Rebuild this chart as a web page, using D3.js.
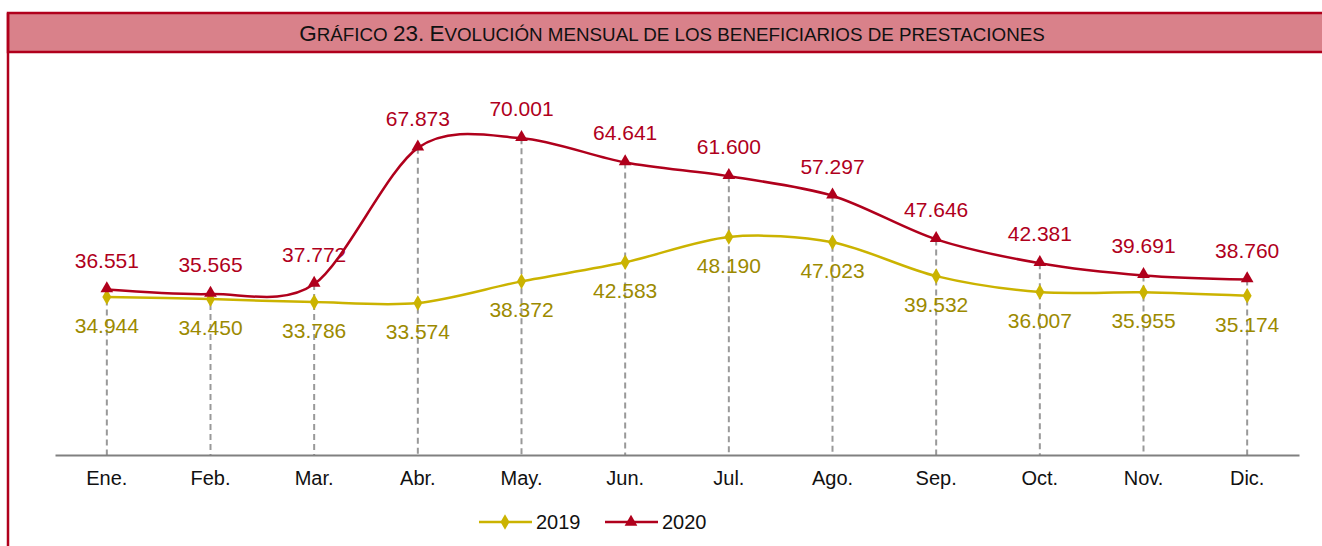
<!DOCTYPE html>
<html>
<head>
<meta charset="utf-8">
<script src="https://cdn.jsdelivr.net/npm/d3@7"></script>
<style>
  body { margin: 0; background: #fff; }
  svg { display: block; font-family: "Liberation Sans", Arial, sans-serif; }
</style>
</head>
<body>
<div id="chartDiv"></div>
<script>
// Data
var months = ["Ene.", "Feb.", "Mar.", "Abr.", "May.", "Jun.", "Jul.", "Ago.", "Sep.", "Oct.", "Nov.", "Dic."];
var values2019 = [34944, 34450, 33786, 33574, 38372, 42583, 48190, 47023, 39532, 36007, 35955, 35174];
var values2020 = [36551, 35565, 37772, 67873, 70001, 64641, 61600, 57297, 47646, 42381, 39691, 38760];
var seriesNames = ["2019", "2020"];
var title = "Gráfico 23. Evolución mensual de los beneficiarios de prestaciones";

var svgWidth = 1322;
var svgHeight = 546;

var red = "#b0001c";
var gold = "#cbb300";
var goldText = "#9c8a00";

var svg = d3.select('#chartDiv')
            .append('svg')
            .attr('width', svgWidth)
            .attr('height', svgHeight);

// Title band and frame
svg.append('rect')
   .attr('x', 8).attr('y', 13)
   .attr('width', svgWidth + 10).attr('height', 39)
   .attr('fill', '#d9818a')
   .attr('stroke', red).attr('stroke-width', 2.5);
svg.append('line')
   .attr('x1', 8).attr('x2', 8).attr('y1', 13).attr('y2', svgHeight)
   .attr('stroke', red).attr('stroke-width', 2.5);

// Title in small caps: capitals bigger, the rest as smaller capitals
var titleText = svg.append('text')
   .attr('x', 672).attr('y', 41)
   .attr('text-anchor', 'middle')
   .attr('fill', '#111');
title.split('').forEach(function(ch) {
    var isUpper = ch !== ch.toLowerCase() || /[0-9.]/.test(ch);
    titleText.append('tspan')
       .style('font-size', isUpper ? '22.5px' : '18.8px')
       .text(ch.toUpperCase());
});

// Scales
var x = d3.scaleBand()
          .domain(months)
          .range([55, 1299]);
var y = d3.scaleLinear()
          .domain([0, 80000])
          .range([455, 93]);

function cx(d, i) { return x(months[i]) + x.bandwidth() / 2; }

// Drop lines
svg.selectAll('.drop')
   .data(months)
   .enter()
   .append('line')
   .attr('class', 'drop')
   .attr('x1', function(d, i) { return cx(d, i); })
   .attr('x2', function(d, i) { return cx(d, i); })
   .attr('y1', function(d, i) { return y(Math.max(values2019[i], values2020[i])); })
   .attr('y2', y(0))
   .attr('stroke', '#999')
   .attr('stroke-width', 2)
   .attr('stroke-dasharray', '6,4');

// Axis
var xAxis = d3.axisBottom(x).tickSize(0).tickPadding(16);
var axisG = svg.append('g')
               .attr('transform', 'translate(0,' + y(0) + ')')
               .call(xAxis);
axisG.select('.domain').attr('stroke', '#808080').attr('stroke-width', 2);
axisG.selectAll('text').style('font-size', '20px').attr('fill', '#111')
     .style('font-family', '"Liberation Sans", Arial, sans-serif');

// Lines
var line = d3.line()
             .x(function(d, i) { return cx(d, i); })
             .y(function(d) { return y(d); })
             .curve(d3.curveCardinal.tension(0.1));

svg.append('path')
   .datum(values2019)
   .attr('d', line)
   .attr('fill', 'none')
   .attr('stroke', gold)
   .attr('stroke-width', 2.5);

svg.append('path')
   .datum(values2020)
   .attr('d', line)
   .attr('fill', 'none')
   .attr('stroke', red)
   .attr('stroke-width', 2.5);

// Markers
var diamond = d3.symbol().type(d3.symbolDiamond).size(70);
var triangle = d3.symbol().type(d3.symbolTriangle).size(70);

svg.selectAll('.m2019')
   .data(values2019)
   .enter()
   .append('path')
   .attr('class', 'm2019')
   .attr('d', diamond)
   .attr('fill', gold)
   .attr('transform', function(d, i) { return 'translate(' + cx(d, i) + ',' + y(d) + ')'; });

svg.selectAll('.m2020')
   .data(values2020)
   .enter()
   .append('path')
   .attr('class', 'm2020')
   .attr('d', triangle)
   .attr('fill', red)
   .attr('transform', function(d, i) { return 'translate(' + cx(d, i) + ',' + (y(d) - 1) + ')'; });

// Data labels
var fmt = d3.format(',');
function label(d) { return fmt(d).replace(/,/g, '.'); }

svg.selectAll('.l2020')
   .data(values2020)
   .enter()
   .append('text')
   .attr('class', 'l2020')
   .attr('x', function(d, i) { return cx(d, i); })
   .attr('y', function(d) { return y(d) - 22; })
   .attr('text-anchor', 'middle')
   .style('font-size', '21px')
   .attr('fill', red)
   .text(label);

svg.selectAll('.l2019')
   .data(values2019)
   .enter()
   .append('text')
   .attr('class', 'l2019')
   .attr('x', function(d, i) { return cx(d, i); })
   .attr('y', function(d) { return y(d) + 36; })
   .attr('text-anchor', 'middle')
   .style('font-size', '21px')
   .attr('fill', goldText)
   .text(label);

// Legend
var legend = svg.append('g').attr('transform', 'translate(479,522)');
var legendItems = [
    { name: seriesNames[0], color: gold, sym: diamond, x: 0 },
    { name: seriesNames[1], color: red, sym: triangle, x: 126 }
];
legendItems.forEach(function(item) {
    var g = legend.append('g').attr('transform', 'translate(' + item.x + ',0)');
    g.append('line').attr('x1', 0).attr('x2', 53).attr('y1', 0).attr('y2', 0)
     .attr('stroke', item.color).attr('stroke-width', 2.5);
    g.append('path').attr('d', item.sym).attr('fill', item.color)
     .attr('transform', 'translate(26,0)');
    g.append('text').attr('x', 57).attr('y', 7)
     .style('font-size', '20px').attr('fill', '#111').text(item.name);
});
</script>
</body>
</html>
